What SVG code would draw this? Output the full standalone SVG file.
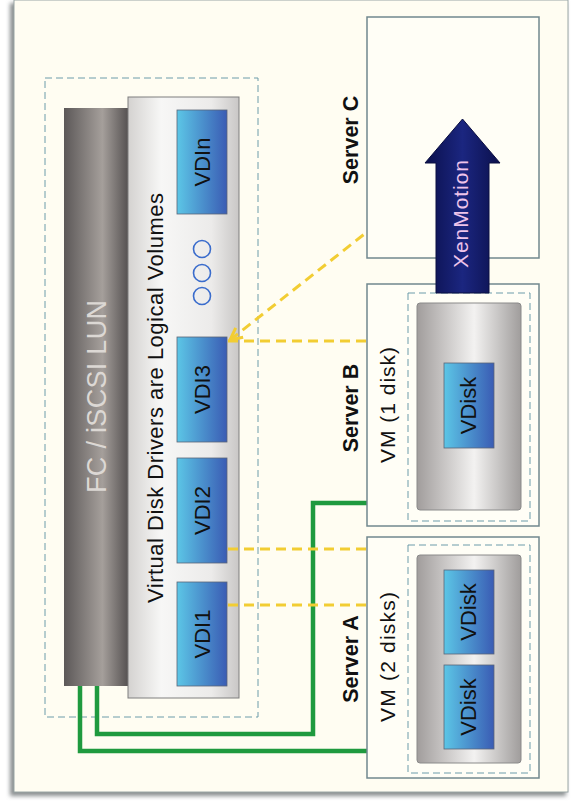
<svg xmlns="http://www.w3.org/2000/svg" width="571" height="807" viewBox="0 0 571 807">
  <style>
    .lbl { font-family: "Liberation Sans", Arial, sans-serif; fill: #111; text-anchor: middle; }
    .srv { font-weight: bold; font-size: 21.5px; }
    .vdi { font-size: 22px; }
    .server { fill: #fffef6; stroke: #72888e; stroke-width: 1.5; }
    .dash { fill: none; stroke: #6d9caa; stroke-width: 1; stroke-dasharray: 7 4; }
    .disk { fill: url(#blue); stroke: #5b6578; stroke-width: 0.8; }
    .vm { fill: url(#vmcyl); stroke: #8a8a8a; stroke-width: 1; }
    .link { fill: none; stroke: #f2cd33; stroke-width: 3; stroke-dasharray: 10 6; }
    .wire { fill: none; stroke: #1f9a3f; stroke-width: 4.5; }
  </style>
  <defs>
    <linearGradient id="blue" x1="0" y1="0" x2="1" y2="0">
      <stop offset="0" stop-color="#5cc6e6"/>
      <stop offset="1" stop-color="#3a5cb4"/>
    </linearGradient>
    <linearGradient id="lun" x1="0" y1="0" x2="1" y2="0">
      <stop offset="0" stop-color="#5c5858"/>
      <stop offset="0.6" stop-color="#a59f9b"/>
      <stop offset="1" stop-color="#565252"/>
    </linearGradient>
    <linearGradient id="lvcyl" x1="0" y1="0" x2="1" y2="0">
      <stop offset="0" stop-color="#d4d2d0"/>
      <stop offset="0.3" stop-color="#f7f7f6"/>
      <stop offset="0.75" stop-color="#ecebea"/>
      <stop offset="1" stop-color="#c9c7c6"/>
    </linearGradient>
    <linearGradient id="vmcyl" x1="0" y1="0" x2="1" y2="0">
      <stop offset="0" stop-color="#a19d9c"/>
      <stop offset="0.55" stop-color="#f3f2f1"/>
      <stop offset="1" stop-color="#a09d9c"/>
    </linearGradient>
    <linearGradient id="navy" x1="0" y1="0" x2="1" y2="0">
      <stop offset="0" stop-color="#0b104c"/>
      <stop offset="0.5" stop-color="#1b2680"/>
      <stop offset="1" stop-color="#0b104c"/>
    </linearGradient>
    <filter id="shadow" x="-5%" y="-5%" width="110%" height="110%">
      <feGaussianBlur stdDeviation="2"/>
    </filter>
    <marker id="chev" viewBox="0 0 10 10" refX="9" refY="5" markerWidth="5" markerHeight="5" orient="auto-start-reverse" markerUnits="strokeWidth">
      <path d="M1,1 L9,5 L1,9" fill="none" stroke="#f2cd33" stroke-width="2"/>
    </marker>
  </defs>

  <!-- page and frame -->
  <rect x="0" y="0" width="571" height="807" fill="#ffffff"/>
  <rect x="10" y="3" width="556" height="793" fill="#8a8f90" filter="url(#shadow)"/>
  <rect x="14" y="0" width="554" height="792" fill="#fffdf2" stroke="#9aa6a6" stroke-width="1"/>

  <!-- storage repository -->
  <g id="storage">
    <rect class="dash" x="45" y="78" width="213" height="639"/>
    <g id="lun">
      <rect x="64" y="108" width="64" height="578" fill="url(#lun)"/>
      <text class="lbl" transform="translate(106,396.5) rotate(-90)" font-size="27" textLength="193" lengthAdjust="spacing" style="fill:#dcd8d4">FC / iSCSI LUN</text>
    </g>
    <g id="logical-volumes">
      <rect x="128" y="97" width="111" height="601" fill="url(#lvcyl)" stroke="#7e7e7e" stroke-width="1"/>
      <text class="lbl" transform="translate(163,398) rotate(-90)" font-size="22" textLength="410" lengthAdjust="spacing">Virtual Disk Drivers are Logical Volumes</text>
    </g>
    <g id="vdin">
      <rect class="disk" x="177" y="110" width="50" height="104"/>
      <text class="lbl vdi" transform="translate(210,162) rotate(-90)">VDIn</text>
    </g>
    <g id="ellipsis" fill="none" stroke="#3a6ccc" stroke-width="1.6">
      <circle cx="202" cy="249" r="8.5"/>
      <circle cx="202" cy="273" r="8.5"/>
      <circle cx="202" cy="296" r="8.5"/>
    </g>
    <g id="vdi3">
      <rect class="disk" x="177" y="337" width="50" height="105"/>
      <text class="lbl vdi" transform="translate(210,389.5) rotate(-90)">VDI3</text>
    </g>
    <g id="vdi2">
      <rect class="disk" x="177" y="458" width="50" height="105"/>
      <text class="lbl vdi" transform="translate(210,510.5) rotate(-90)">VDI2</text>
    </g>
    <g id="vdi1">
      <rect class="disk" x="177" y="582" width="50" height="104"/>
      <text class="lbl vdi" transform="translate(210,634) rotate(-90)">VDI1</text>
    </g>
  </g>

  <!-- connectors -->
  <g id="connectors">
    <path class="wire" d="M80,686 V751 H367"/>
    <path class="wire" d="M97,686 V734 H313 V503 H367"/>
    <path class="link" d="M228,605 H367"/>
    <path class="link" d="M228,549 H367"/>
    <path class="link" d="M228,341 H367"/>
    <path class="link" d="M230,340 L367,232" marker-start="url(#chev)"/>
  </g>

  <!-- Server C -->
  <g id="server-c">
    <rect class="server" x="367" y="17" width="172" height="241"/>
    <text class="lbl srv" transform="translate(358,140) rotate(-90)">Server C</text>
  </g>

  <!-- Server B -->
  <g id="server-b">
    <rect class="server" x="367" y="284" width="172" height="242"/>
    <rect class="dash" x="408" y="293" width="122" height="228"/>
    <rect class="vm" x="417" y="303" width="104" height="207" rx="3"/>
    <rect class="disk" x="444" y="363" width="50" height="85"/>
    <text class="lbl vdi" transform="translate(476,405.5) rotate(-90)">VDisk</text>
    <text class="lbl srv" transform="translate(358,408) rotate(-90)">Server B</text>
    <text class="lbl" transform="translate(395,405) rotate(-90)" font-size="21" textLength="116" lengthAdjust="spacing">VM (1 disk)</text>
  </g>

  <!-- Server A -->
  <g id="server-a">
    <rect class="server" x="367" y="537" width="172" height="241"/>
    <rect class="dash" x="408" y="545" width="122" height="228"/>
    <rect class="vm" x="417" y="555" width="104" height="208" rx="3"/>
    <rect class="disk" x="444" y="570" width="50" height="84"/>
    <text class="lbl vdi" transform="translate(476,612) rotate(-90)">VDisk</text>
    <rect class="disk" x="444" y="665" width="50" height="84"/>
    <text class="lbl vdi" transform="translate(476,707) rotate(-90)">VDisk</text>
    <text class="lbl srv" transform="translate(358,659) rotate(-90)">Server A</text>
    <text class="lbl" transform="translate(395,657) rotate(-90)" font-size="21" textLength="130" lengthAdjust="spacing">VM (2 disks)</text>
  </g>

  <!-- migration arrow -->
  <g id="xenmotion">
    <path d="M436,293 V163 H425 L462.5,119 L500,163 H489 V293 Z" fill="url(#navy)" stroke="#0a0e40" stroke-width="1"/>
    <text class="lbl" transform="translate(468,214) rotate(-90)" font-size="21" textLength="108" lengthAdjust="spacing" style="fill:#efc4ea">XenMotion</text>
  </g>
</svg>
